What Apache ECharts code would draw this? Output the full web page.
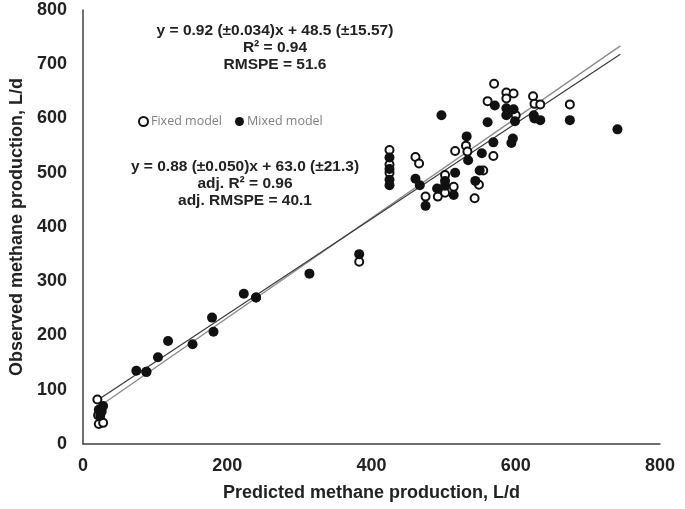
<!DOCTYPE html>
<html>
<head>
<meta charset="utf-8">
<script src="https://cdn.jsdelivr.net/npm/echarts@6/dist/echarts.min.js"></script>
<style>html,body{margin:0;padding:0;background:#fff}#c{width:685px;height:509px}</style>
</head>
<body>
<div id="c"></div>
<script>
// Predicted (x) vs observed (y), L/d
const fixedModel = [
  [20,82],[21,53],[22,37],[28,39],
  [88,133],[240,270],[383,336],
  [425,542],[425,515],[425,500],
  [461,529],[466,517],
  [475,456],[492,456],[502,496],[502,463],[514,474],[516,540],[531,550],[533,539],
  [543,453],[549,478],[555,504],[561,632],[569,531],[570,664],
  [587,648],[597,646],[587,637],[600,606],
  [624,641],[626,627],[634,626],[675,626]
];
const mixedModel = [
  [22,63],[28,70],[26,60],[24,52],
  [74,135],[88,133],[104,160],[118,190],[152,184],[179,233],[181,207],[223,277],[240,270],[314,314],[383,350],
  [425,528],[425,507],[425,487],[425,477],
  [461,489],[467,477],[475,439],[491,471],[502,485],[502,476],[497,606],[514,459],[516,500],
  [532,567],[534,523],[544,485],[550,504],[553,536],[569,556],[561,593],[571,624],
  [587,619],[597,617],[587,606],[599,595],[596,563],[594,555],
  [625,606],[626,600],[634,597],[675,597],[741,580]
];
// regression fits: slope, intercept; drawn over predicted range
const fitFixed = [0.92, 48.5];
const fitMixed = [0.88, 63.0];
const fitRange = [20, 745];
const xTicks = [0, 200, 400, 600, 800];
const yTicks = [0, 100, 200, 300, 400, 500, 600, 700, 800];
const annotFixed = ['y = 0.92 (±0.034)x + 48.5 (±15.57)', 'R² = 0.94', 'RMSPE = 51.6'];
const annotMixed = ['y = 0.88 (±0.050)x + 63.0 (±21.3)', 'adj. R² = 0.96', 'adj. RMSPE = 40.1'];

const fitLine = f => fitRange.map(x => [x, f[0] * x + f[1]]);
const chart = echarts.init(document.getElementById('c'), null, {renderer: 'canvas'});
const txt = '#222';
const font = 'Liberation Sans, Arial, sans-serif';
function annot(lines, cx, cy) {
  return lines.map((t, i) => ({
    type: 'text', x: cx, y: cy + i * 17,
    style: {text: t, x: 0, y: 0, textAlign: 'center', textVerticalAlign: 'middle',
      font: 'bold 15.5px ' + font, fill: txt}
  }));
}
chart.setOption({
  animation: false,
  grid: {left: 78, right: 25, top: 10, bottom: 65},
  legend: {
    left: 138, top: 115, itemWidth: 9, itemHeight: 9, itemGap: 13, padding: 0,
    icon: 'circle',
    data: ['Fixed model', 'Mixed model'],
    textStyle: {fontFamily: 'Open Sans', fontSize: 12.5, color: '#808080', padding: [0, 0, 0, -2]}
  },
  xAxis: {
    type: 'value', min: xTicks[0], max: xTicks[xTicks.length - 1], interval: 200,
    name: 'Predicted methane production, L/d', nameLocation: 'middle', nameGap: 40,
    nameTextStyle: {fontFamily: font, fontWeight: 'bold', fontSize: 18, color: txt},
    axisLine: {lineStyle: {color: '#404040', width: 1.5}},
    axisTick: {show: false}, splitLine: {show: false},
    axisLabel: {fontFamily: font, fontWeight: 'bold', fontSize: 18, color: txt, margin: 13}
  },
  yAxis: {
    type: 'value', min: yTicks[0], max: yTicks[yTicks.length - 1], interval: 100,
    name: 'Observed methane production, L/d', nameLocation: 'middle', nameGap: 51,
    nameTextStyle: {fontFamily: font, fontWeight: 'bold', fontSize: 18, color: txt},
    axisLine: {show: true, lineStyle: {color: '#404040', width: 1.5}},
    axisTick: {show: false}, splitLine: {show: false},
    axisLabel: {fontFamily: font, fontWeight: 'bold', fontSize: 18, color: txt, margin: 16}
  },
  graphic: [].concat(annot(annotFixed, 275, 31), annot(annotMixed, 245, 167)),
  series: [
    {type: 'line', data: fitLine(fitFixed), showSymbol: false, silent: true,
     lineStyle: {color: '#8a8a8a', width: 1.3}, z: 1},
    {type: 'line', data: fitLine(fitMixed), showSymbol: false, silent: true,
     lineStyle: {color: '#3a3a3a', width: 1.2}, z: 1},
    {name: 'Fixed model', type: 'scatter', data: fixedModel, symbol: 'circle', symbolSize: 8,
     itemStyle: {color: '#fff', borderColor: '#111', borderWidth: 2, opacity: 1}, z: 3},
    {name: 'Mixed model', type: 'scatter', data: mixedModel, symbol: 'circle', symbolSize: 10,
     itemStyle: {color: '#111', opacity: 1}, z: 4}
  ]
});
</script>
</body>
</html>
